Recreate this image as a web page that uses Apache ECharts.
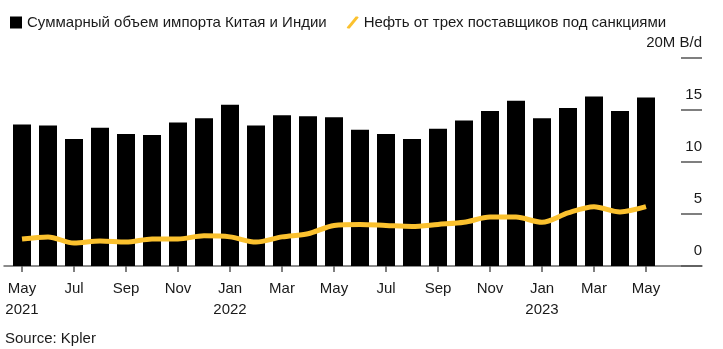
<!DOCTYPE html>
<html><head><meta charset="utf-8">
<script src="https://cdn.jsdelivr.net/npm/echarts@6/dist/echarts.min.js"></script>
<style>html,body{margin:0;padding:0;background:#fff}#c{width:723px;height:349px}</style>
</head><body><div id="c"></div>
<script>
const months = ['May\n2021','Jun','Jul','Aug','Sep','Oct','Nov','Dec','Jan\n2022','Feb','Mar','Apr','May','Jun','Jul','Aug','Sep','Oct','Nov','Dec','Jan\n2023','Feb','Mar','Apr','May'];
const totalImports = [13.6,13.5,12.2,13.3,12.7,12.6,13.8,14.2,15.5,13.5,14.5,14.4,14.3,13.1,12.7,12.2,13.2,14.0,14.9,15.9,14.2,15.2,16.3,14.9,16.2];
const sanctionedOil = [2.6,2.8,2.2,2.4,2.3,2.6,2.6,2.9,2.8,2.3,2.8,3.1,3.9,4.0,3.9,3.8,4.0,4.2,4.7,4.7,4.2,5.1,5.7,5.2,5.7];
const yTicks = [0,5,10,15,20];
const seriesNames = ['Суммарный объем импорта Китая и Индии','Нефть от трех поставщиков под санкциями'];
const FONT = '"Liberation Sans", Arial, sans-serif';

const chart = echarts.init(document.getElementById('c'), null, {renderer:'canvas'});
chart.setOption({
  animation:false,
  textStyle:{fontFamily:FONT},
  legend:{
    left:5, top:10, itemGap:20, itemWidth:12, itemHeight:12,
    textStyle:{fontFamily:FONT, fontSize:15, color:'#1a1a1a'},
    data:[
      {name:seriesNames[0], icon:'path://M1,1 L12,1 L12,12 L1,12 Z', itemStyle:{color:'#000'}},
      {name:seriesNames[1], icon:'path://M0,11 L1,12 L3,12 L12,1 L11,0 L9,0 Z', itemStyle:{color:'#fbc12e'}}
    ]
  },
  grid:[
    {left:9, right:64, top:58, bottom:83},
    {left:4, right:21, top:58, bottom:83}
  ],
  xAxis:[
    {type:'category', gridIndex:0, data:months, boundaryGap:true,
     axisLine:{show:false},
     axisTick:{show:true, interval:1, alignWithLabel:true, length:6, lineStyle:{color:'#555', width:1.5}},
     axisLabel:{interval:1, fontFamily:FONT, fontSize:15, color:'#1a1a1a', margin:12, lineHeight:21}},
    {type:'value', gridIndex:1, min:0, max:1,
     axisLine:{show:true, lineStyle:{color:'#666', width:1.5}},
     axisTick:{show:false}, axisLabel:{show:false}, splitLine:{show:false}}
  ],
  yAxis:[
    {type:'value', gridIndex:0, position:'right', offset:43, min:yTicks[0], max:yTicks[yTicks.length-1], interval:5,
     axisLine:{show:false},
     axisTick:{show:true, inside:true, length:21, lineStyle:{color:'#555', width:1.5}},
     splitLine:{show:false},
     axisLabel:{inside:true, margin:0, align:'right', verticalAlign:'bottom', padding:[0,0,6,0], lineHeight:18,
       fontFamily:FONT, fontSize:15, color:'#1a1a1a',
       formatter:v=> v===20 ? '20M B/d' : String(v)}},
    {type:'value', gridIndex:1, min:0, max:20, show:false}
  ],
  series:[
    {name:seriesNames[0], type:'bar', xAxisIndex:0, yAxisIndex:0, data:totalImports, barWidth:18,
     itemStyle:{color:'#000'}},
    {name:seriesNames[1], type:'line', xAxisIndex:0, yAxisIndex:0, data:sanctionedOil, smooth:0.3,
     showSymbol:false, symbol:'none', lineStyle:{color:'#fbc12e', width:5}, itemStyle:{color:'#fbc12e'}}
  ],
  graphic:[{type:'text', left:5, top:331, style:{text:'Source: Kpler', font:'15px '+FONT, fill:'#1a1a1a'}}]
});
</script></body></html>
